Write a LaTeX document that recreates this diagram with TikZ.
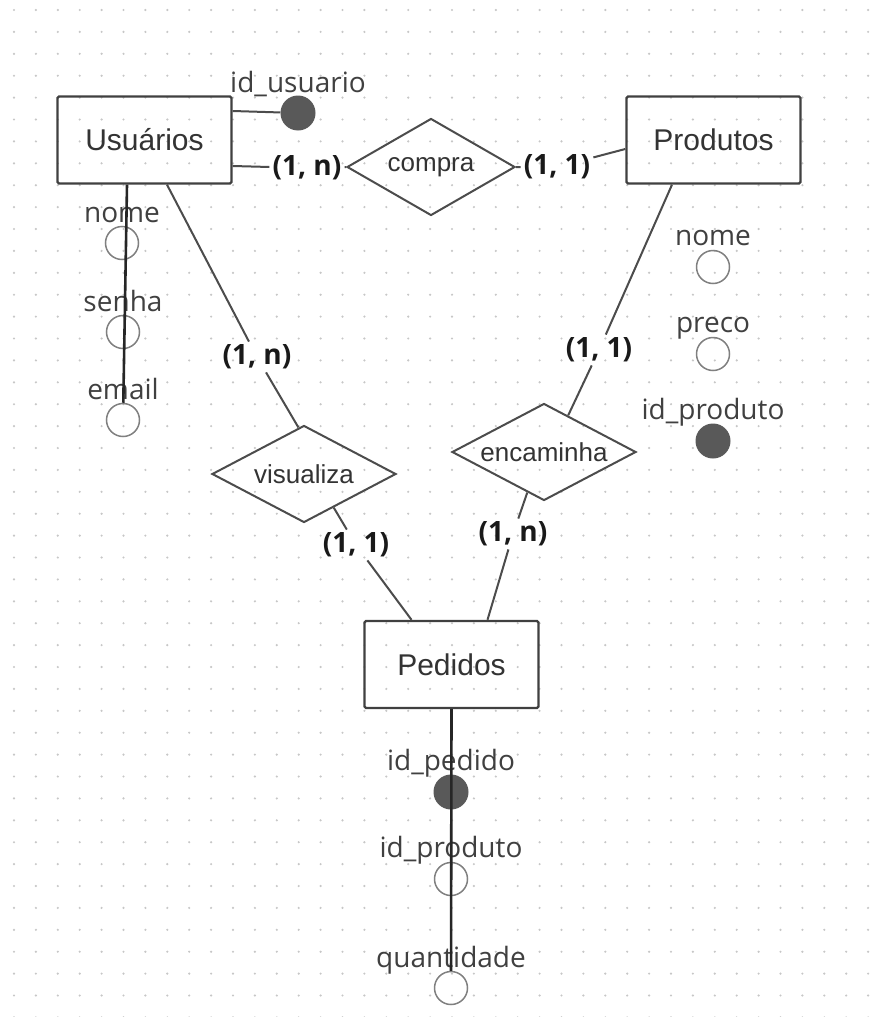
\documentclass[tikz,border=0pt]{standalone}
\usepackage{fontspec}
\setmainfont{Liberation Sans}
\newfontfamily\attfont{Open Sans}
\usetikzlibrary{shapes.geometric,calc}

\begin{document}
\begin{tikzpicture}[x=1pt,y=-1pt]
\tikzset{entidade/.style={draw=black!75, line width=2.4pt, rounded corners=1.5pt, minimum width=174pt, minimum height=87pt, font=\fontsize{30}{30}\selectfont, text=black!80}}
\tikzset{relacao/.style={draw=black!70, line width=2pt, diamond, aspect=1.9, minimum width=184pt, minimum height=97pt, inner sep=0pt, font=\fontsize{26}{26}\selectfont, text=black!80}}
\tikzset{atrib/.style={draw=black!50, line width=1.5pt, circle, minimum size=33pt, inner sep=0pt}}
\tikzset{chave/.style={fill=black!65, circle, minimum size=35pt, inner sep=0pt}}
\tikzset{rotulo/.style={font=\attfont\fontsize{28}{28}\selectfont, text=black!75, inner sep=0pt, anchor=base}}
\tikzset{card/.style={font=\attfont\bfseries\fontsize{28}{28}\selectfont, text=black!90, inner sep=3pt}}
\tikzset{liga/.style={draw=black!70, line width=2pt}}
\tikzset{haste/.style={draw=black!85, line width=2.6pt}}
\useasboundingbox (0,0) rectangle (884,1017);
\fill[white] (0,0) rectangle (884,1017);
% grade de pontos
\foreach \i in {0,...,39}
  \foreach \j in {0,...,46}
    \fill[black!22] (14+21.9*\i, 10+21.9*\j) circle (1.2pt);
% entidades e relacoes
\node[entidade] (usu) at (144.5,140) {Usuários};
\node[entidade] (prod) at (713.5,140) {Produtos};
\node[entidade] (ped) at (451.5,664.5) {Pedidos};
\node[relacao, minimum width=168pt] (compra) at (431,167) {compra};
\node[relacao] (visu) at (304,474) {visualiza};
\node[relacao] (enca) at (544,452) {encaminha};
% atributos
\node[chave] (idU) at (298,113) {};
\node[atrib] (nomeU) at (122,243) {};
\node[atrib] (senha) at (123,332) {};
\node[atrib] (email) at (123,420) {};
\node[atrib] (nomeP) at (713,267) {};
\node[atrib] (preco) at (713,354) {};
\node[chave] (idP) at (713,441) {};
\node[chave] (idPed) at (451,792) {};
\node[atrib] (idProd) at (451,879) {};
\node[atrib] (qtd) at (451,988) {};
\node[rotulo] (tIdU) at ([yshift=21pt]idU.center) {id\_usuario};
\node[rotulo] (tNomeU) at ([yshift=21pt]nomeU.center) {nome};
\node[rotulo] (tSenha) at ([yshift=21pt]senha.center) {senha};
\node[rotulo] (tEmail) at ([yshift=21pt]email.center) {email};
\node[rotulo] (tNomeP) at ([yshift=22pt]nomeP.center) {nome};
\node[rotulo] (tPreco) at ([yshift=22pt]preco.center) {preco};
\node[rotulo] (tIdP) at ([yshift=22pt]idP.center) {id\_produto};
\node[rotulo] (tIdPed) at ([yshift=22pt]idPed.center) {id\_pedido};
\node[rotulo] (tIdProd) at ([yshift=22pt]idProd.center) {id\_produto};
\node[rotulo] (tQtd) at ([yshift=21pt]qtd.center) {quantidade};
% cardinalidades
\node[card] (k1) at (307,168) {(1, n)};
\node[card] (k2) at (557,167) {(1, 1)};
\node[card] (k3) at (257,357) {(1, n)};
\node[card] (k4) at (599,350) {(1, 1)};
\node[card] (k5) at (356,545) {(1, 1)};
\node[card] (k6) at (513,534) {(1, n)};
% ligacoes
\draw[liga] (idU) -- ([yshift=29pt]usu.east);
\draw[liga] ([yshift=-26pt]usu.east) -- (k1) -- (compra.west);
\draw[liga] (compra.east) -- (k2) -- ([yshift=-9pt]prod.west);
\draw[liga] ([xshift=22.5pt]usu.south) -- (k3) -- ($(visu.north)!0.06!(visu.west)$);
\draw[liga] ([xshift=-41.5pt]prod.south) -- (k4) -- ($(enca.north)!0.26!(enca.east)$);
\draw[liga] ($(visu.south)!0.32!(visu.east)$) -- (k5) -- ([xshift=-40pt]ped.north);
\draw[liga] ($(enca.south)!0.18!(enca.west)$) -- (k6) -- ([xshift=36pt]ped.north);
\draw[haste] ([xshift=-17.5pt]usu.south) -- (email);
\draw[haste] (ped.south) -- (qtd);
\end{tikzpicture}
\end{document}
